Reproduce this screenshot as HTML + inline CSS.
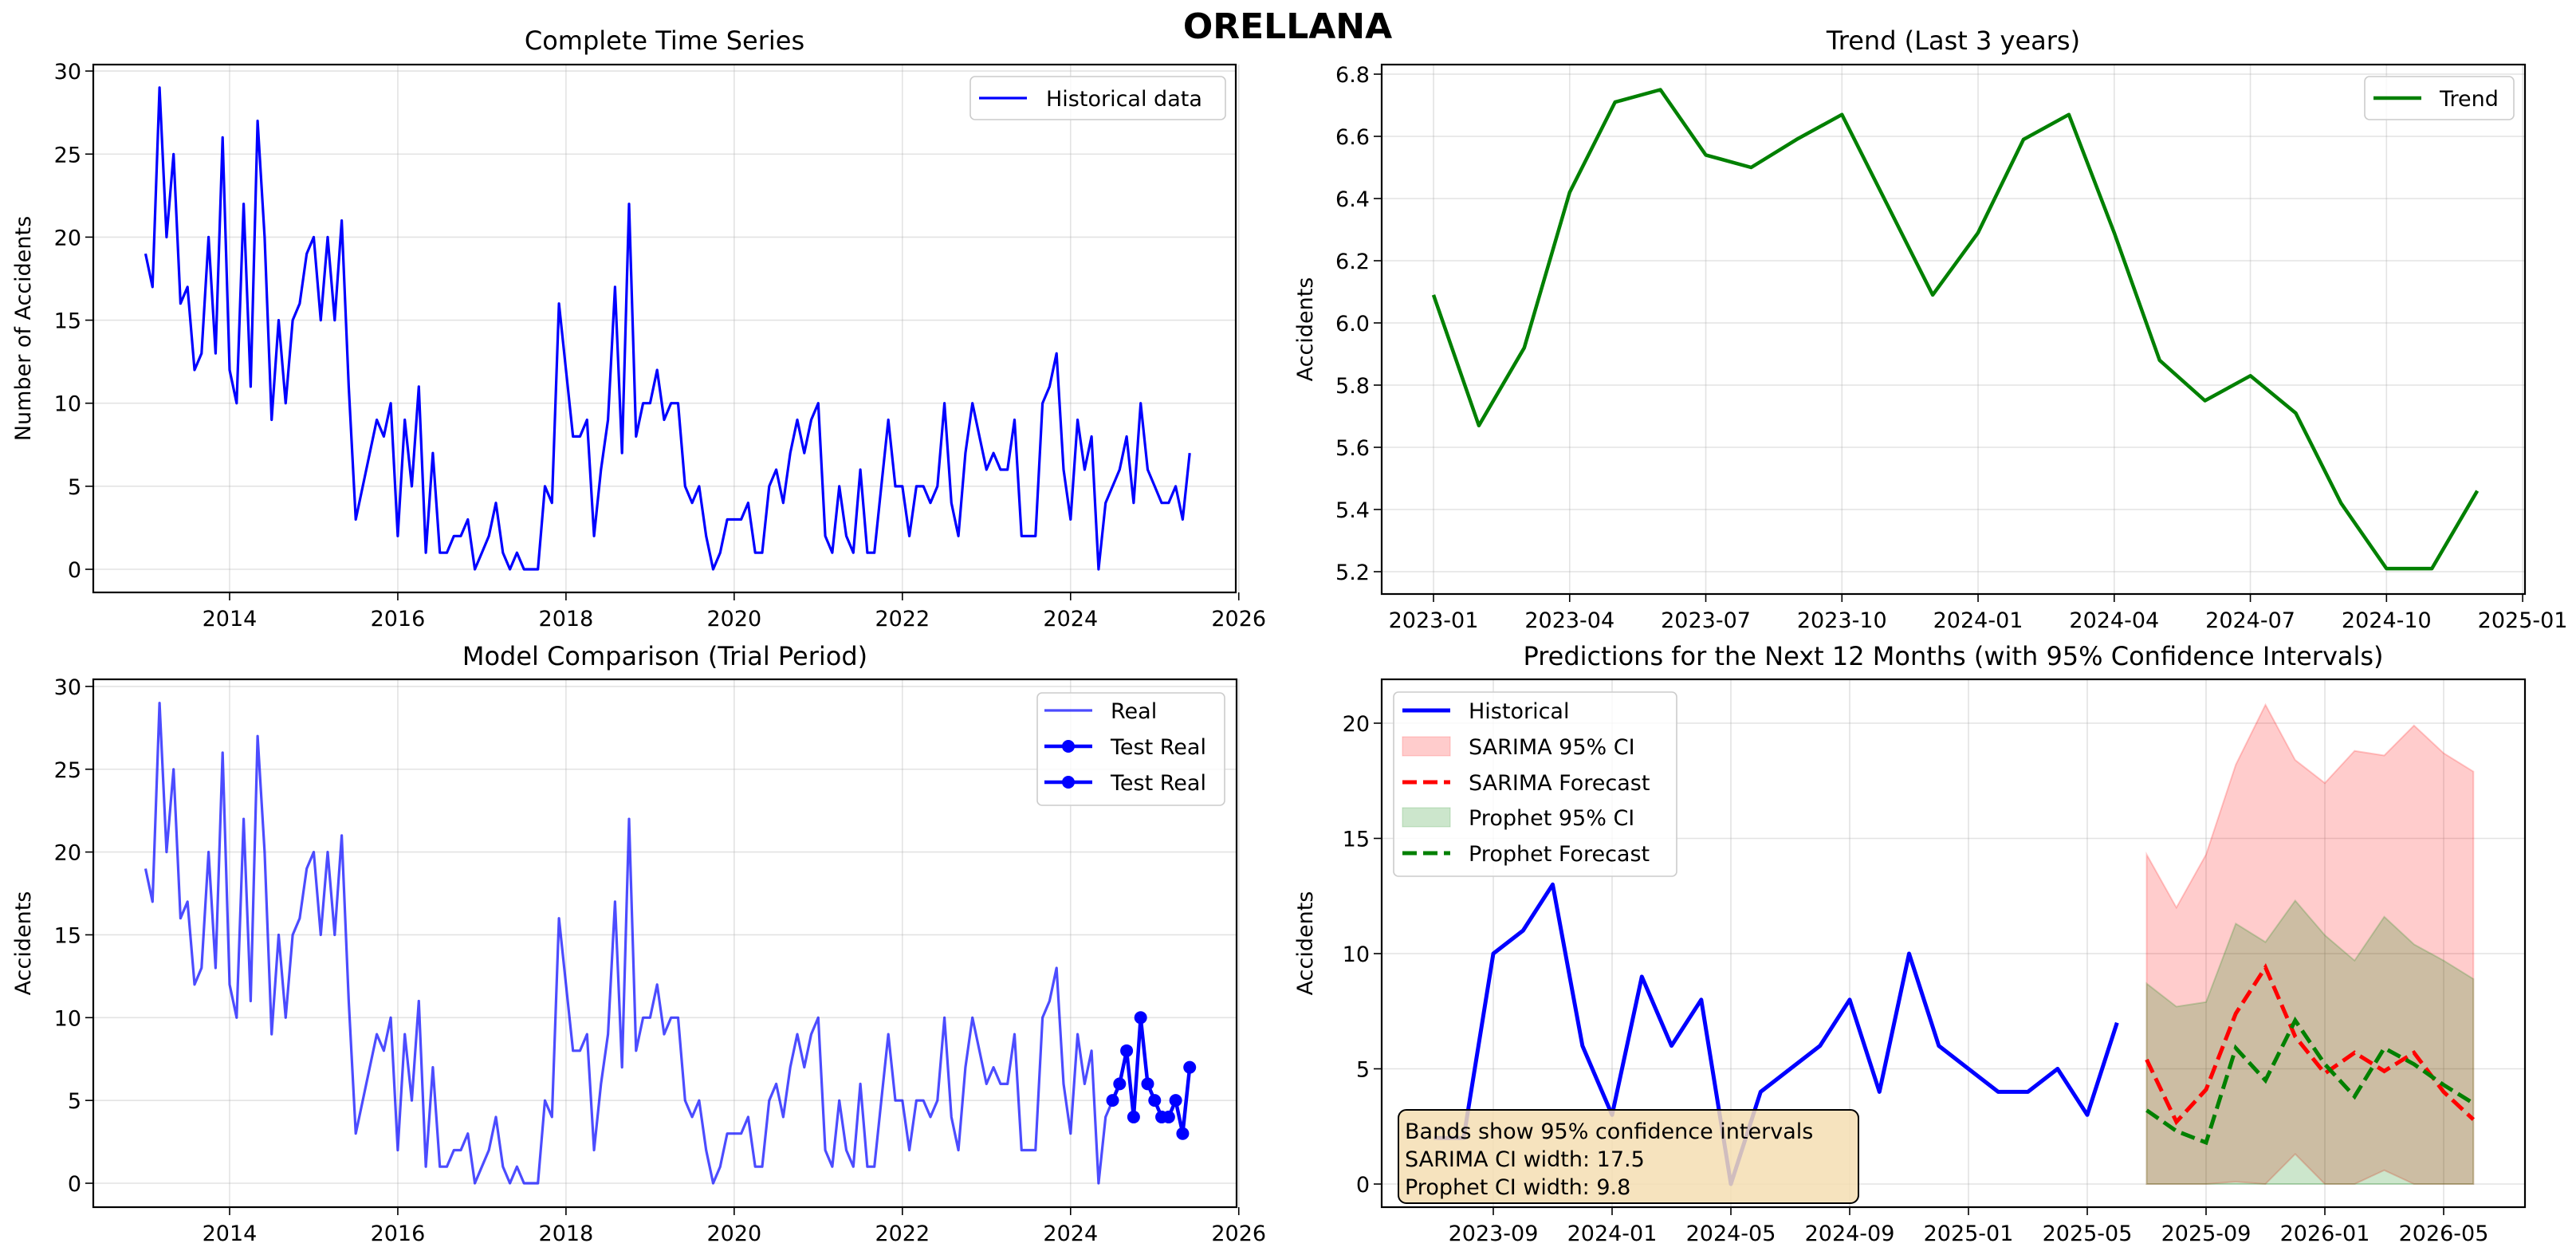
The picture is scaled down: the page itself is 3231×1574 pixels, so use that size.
<!DOCTYPE html>
<html><head><meta charset="utf-8"><style>
html,body{margin:0;padding:0;background:#fff;}
svg{display:block;font-family:"DejaVu Sans","Liberation Sans",sans-serif;}
</style></head><body>
<svg id="fig" width="3231" height="1574" viewBox="0 0 3231 1574" xmlns="http://www.w3.org/2000/svg">
<rect width="3231" height="1574" fill="#fff"/>
<text x="1615" y="48" text-anchor="middle" font-size="44" font-weight="bold">ORELLANA</text>
</svg>
<script>
// ---- data ----
const histValues = [19,17,29,20,25,16,17,12,13,20,13,26,
12,10,22,11,27,20,9,15,10,15,16,19,
20,15,20,15,21,11,3,5,7,9,8,10,
2,9,5,11,1,7,1,1,2,2,3,0,
1,2,4,1,0,1,0,0,0,5,4,16,
12,8,8,9,2,6,9,17,7,22,8,10,
10,12,9,10,10,5,4,5,2,0,1,3,
3,3,4,1,1,5,6,4,7,9,7,9,
10,2,1,5,2,1,6,1,1,5,9,5,
5,2,5,5,4,5,10,4,2,7,10,8,
6,7,6,6,9,2,2,2,10,11,13,6,
3,9,6,8,0,4,5,6,8,4,10,6,
5,4,4,5,3,7];
const trendValues = [6.09,5.67,5.92,6.42,6.71,6.75,6.54,6.50,6.59,6.67,6.38,6.09,6.29,6.59,6.67,6.29,5.88,5.75,5.83,5.71,5.42,5.21,5.21,5.46];
const sarimaForecast = [5.4,2.7,4.1,7.4,9.4,6.4,4.8,5.7,4.9,5.7,4.0,2.8];
const sarimaUpper = [14.3,12.0,14.3,18.2,20.8,18.4,17.4,18.8,18.6,19.9,18.7,17.9];
const sarimaLower = [0,0,0,0.1,0,1.3,0,0,0.6,0,0,0];
const prophetForecast = [3.2,2.3,1.8,5.9,4.5,7.1,5.2,3.8,5.9,5.2,4.3,3.5];
const prophetUpper = [8.7,7.7,7.9,11.3,10.5,12.3,10.8,9.7,11.6,10.4,9.7,8.9];
const prophetLower = [0,0,0,0,0,0,0,0,0,0,0,0];
const yearTicks = [2014,2016,2018,2020,2022,2024,2026];
const countTicks = [0,5,10,15,20,25,30];
const trendTicks = [5.2,5.4,5.6,5.8,6.0,6.2,6.4,6.6,6.8];
const trendDateLabels = ["2023-01","2023-04","2023-07","2023-10","2024-01","2024-04","2024-07","2024-10","2025-01"];
const forecastDateLabels = ["2023-09","2024-01","2024-05","2024-09","2025-01","2025-05","2025-09","2026-01","2026-05"];
const forecastYTicks = [0,5,10,15,20];
const testCount = 12;

const NS="http://www.w3.org/2000/svg";
const svg=document.getElementById('fig');
function mk(tag,attrs,parent){const e=document.createElementNS(NS,tag);for(const k in attrs)e.setAttribute(k,attrs[k]);(parent||svg).appendChild(e);return e;}
function txt(x,y,s,size,anchor,parent,extra){const e=mk('text',Object.assign({x:x,y:y,'font-size':size,'text-anchor':anchor||'middle'},extra||{}),parent);e.textContent=s;return e;}
function pts(xs,ys){return xs.map((x,i)=>x.toFixed(1)+','+ys[i].toFixed(1)).join(' ');}

function axesFrame(g,L,T,R,B){
  const r=mk('rect',{x:L,y:T,width:R-L,height:B-T,fill:'none',stroke:'#000','stroke-width':2.2},g);
  return r;
}
function gridX(g,x,T,B){mk('line',{x1:x,y1:T,x2:x,y2:B,stroke:'#b0b0b0','stroke-opacity':0.35,'stroke-width':1.6},g);}
function gridY(g,y,L,R){mk('line',{x1:L,y1:y,x2:R,y2:y,stroke:'#b0b0b0','stroke-opacity':0.35,'stroke-width':1.6},g);}
function tickX(g,x,B,label){mk('line',{x1:x,y1:B,x2:x,y2:B+10,stroke:'#000','stroke-width':1.6},g);const t=txt(x,B+42,label,27,'middle',g);}
function tickY(g,y,L,label){mk('line',{x1:L-10,y1:y,x2:L,y2:y,stroke:'#000','stroke-width':1.6},g);const t=txt(L-15,y+10,label,27,'end',g);}

// ===== Panel 1: Complete Time Series =====
(function(){
  const g=mk('g',{});
  
  
  const L=117,T=81,R=1550,B=743;
  const xm=t=>182.5+t*8.79, yv=v=>714-20.83*v;
  yearTicks.forEach(yr=>{gridX(g,xm((yr-2013)*12),T,B);});
  countTicks.forEach(v=>gridY(g,yv(v),L,R));
  const line=mk('polyline',{points:pts(histValues.map((v,i)=>xm(i)),histValues.map(yv)),fill:'none',stroke:'#0000ff','stroke-width':3.2,'stroke-linejoin':'round'},g);
  
  
  axesFrame(g,L,T,R,B);
  yearTicks.forEach(yr=>tickX(g,xm((yr-2013)*12),B,String(yr)));
  countTicks.forEach(v=>tickY(g,yv(v),L,String(v)));
  const tt=txt((L+R)/2,62,'Complete Time Series',32,'middle',g);
  
  
  const yl=txt(0,0,'Number of Accidents',27,'middle',g,{transform:'translate(38,'+((T+B)/2)+') rotate(-90)'});
  
  
  const lg=mk('g',{},g);
  
  
  mk('rect',{x:1217,y:96,width:320,height:54,rx:6,fill:'#fff','fill-opacity':0.8,stroke:'#ccc','stroke-width':1.6},lg);
  mk('line',{x1:1228,y1:123,x2:1288,y2:123,stroke:'#0000ff','stroke-width':3.2},lg);
  txt(1312,133,'Historical data',27,'start',lg);
})();

// ===== Panel 2: Trend =====
(function(){
  const g=mk('g',{});
  
  
  const L=1733,T=81,R=3167,B=745;
  const xm=t=>1798+t*56.92, yv=v=>717-(v-5.2)/1.6*624;
  trendDateLabels.forEach((s,i)=>gridX(g,xm(i*3),T,B));
  trendTicks.forEach(v=>gridY(g,yv(v),L,R));
  const line=mk('polyline',{points:pts(trendValues.map((v,i)=>xm(i)),trendValues.map(yv)),fill:'none',stroke:'#008000','stroke-width':4.5,'stroke-linejoin':'round'},g);
  
  
  axesFrame(g,L,T,R,B);
  trendDateLabels.forEach((s,i)=>tickX(g,xm(i*3),B,s));
  trendTicks.forEach(v=>tickY(g,yv(v),L,v.toFixed(1)));
  const tt=txt((L+R)/2,62,'Trend (Last 3 years)',32,'middle',g);
  
  
  const yl=txt(0,0,'Accidents',27,'middle',g,{transform:'translate(1646,'+((T+B)/2)+') rotate(-90)'});
  
  
  const lg=mk('g',{},g);
  
  
  mk('rect',{x:2966,y:96,width:187,height:54,rx:6,fill:'#fff','fill-opacity':0.8,stroke:'#ccc','stroke-width':1.6},lg);
  mk('line',{x1:2977,y1:123,x2:3037,y2:123,stroke:'#008000','stroke-width':4.5},lg);
  txt(3060,133,'Trend',27,'start',lg);
})();

// ===== Panel 3: Model comparison =====
(function(){
  const g=mk('g',{});
  
  
  const L=117,T=852,R=1551,B=1514;
  const xm=t=>182.5+t*8.79, yv=v=>1484-20.77*v;
  yearTicks.forEach(yr=>gridX(g,xm((yr-2013)*12),T,B));
  countTicks.forEach(v=>gridY(g,yv(v),L,R));
  const line=mk('polyline',{points:pts(histValues.map((v,i)=>xm(i)),histValues.map(yv)),fill:'none',stroke:'#0000ff','stroke-opacity':0.7,'stroke-width':3.2,'stroke-linejoin':'round'},g);
  
  
  const start=histValues.length-testCount;
  const tv=histValues.slice(start);
  const tl=mk('polyline',{points:pts(tv.map((v,i)=>xm(start+i)),tv.map(yv)),fill:'none',stroke:'#0000ff','stroke-width':4.5,'stroke-linejoin':'round'},g);
  
  
  tv.forEach((v,i)=>{
    const c=mk('circle',{cx:xm(start+i),cy:yv(v),r:8,fill:'#0000ff'},g);
    
    
  });
  axesFrame(g,L,T,R,B);
  yearTicks.forEach(yr=>tickX(g,xm((yr-2013)*12),B,String(yr)));
  countTicks.forEach(v=>tickY(g,yv(v),L,String(v)));
  const tt=txt((L+R)/2,834,'Model Comparison (Trial Period)',32,'middle',g);
  
  
  const yl=txt(0,0,'Accidents',27,'middle',g,{transform:'translate(38,'+((T+B)/2)+') rotate(-90)'});
  
  
  const lg=mk('g',{},g);
  
  
  mk('rect',{x:1301,y:869,width:235,height:141,rx:6,fill:'#fff','fill-opacity':0.8,stroke:'#ccc','stroke-width':1.6},lg);
  mk('line',{x1:1310,y1:891,x2:1370,y2:891,stroke:'#0000ff','stroke-opacity':0.7,'stroke-width':3.2},lg);
  txt(1393,901,'Real',27,'start',lg);
  [936,981].forEach(y=>{
    mk('line',{x1:1310,y1:y,x2:1370,y2:y,stroke:'#0000ff','stroke-width':4.5},lg);
    mk('circle',{cx:1340,cy:y,r:8,fill:'#0000ff'},lg);
    txt(1393,y+10,'Test Real',27,'start',lg);
  });
})();

// ===== Panel 4: Predictions =====
(function(){
  const g=mk('g',{});
  
  
  const L=1733,T=852,R=3167,B=1514;
  const xm=t=>1798.5+t*37.25, yv=v=>1485-28.9*v;
  forecastDateLabels.forEach((s,i)=>gridX(g,xm(2+i*4),T,B));
  forecastYTicks.forEach(v=>gridY(g,yv(v),L,R));
  const hv=histValues.slice(histValues.length-24);
  const f0=24;
  const fx=sarimaForecast.map((v,i)=>xm(f0+i));
  const band=(up,lo,col,name)=>{
    const p=up.map((v,i)=>fx[i].toFixed(1)+','+yv(v).toFixed(1)).concat(lo.map((v,i)=>fx[i].toFixed(1)+','+yv(v).toFixed(1)).reverse()).join(' ');
    const e=mk('polygon',{points:p,fill:col,'fill-opacity':0.2,stroke:col,'stroke-opacity':0.2,'stroke-width':2},g);
    return e;
  };
  const b1=band(sarimaUpper,sarimaLower,'#ff0000');
  
  
  const b2=band(prophetUpper,prophetLower,'#008000');
  
  
  const hl=mk('polyline',{points:pts(hv.map((v,i)=>xm(i)),hv.map(yv)),fill:'none',stroke:'#0000ff','stroke-width':5,'stroke-linejoin':'round'},g);
  
  
  const sl=mk('polyline',{points:pts(fx,sarimaForecast.map(yv)),fill:'none',stroke:'#ff0000','stroke-width':5,'stroke-dasharray':'18,8'},g);
  
  
  const pl=mk('polyline',{points:pts(fx,prophetForecast.map(yv)),fill:'none',stroke:'#008000','stroke-width':5,'stroke-dasharray':'18,8'},g);
  
  
  axesFrame(g,L,T,R,B);
  forecastDateLabels.forEach((s,i)=>tickX(g,xm(2+i*4),B,s));
  forecastYTicks.forEach(v=>tickY(g,yv(v),L,String(v)));
  const tt=txt((L+R)/2,834,'Predictions for the Next 12 Months (with 95% Confidence Intervals)',32,'middle',g);
  
  
  const yl=txt(0,0,'Accidents',27,'middle',g,{transform:'translate(1646,'+((T+B)/2)+') rotate(-90)'});
  
  
  const lg=mk('g',{},g);
  
  
  mk('rect',{x:1748,y:868,width:355,height:231,rx:6,fill:'#fff','fill-opacity':0.8,stroke:'#ccc','stroke-width':1.6},lg);
  const rows=[891,936,981,1025,1070];
  mk('line',{x1:1759,y1:rows[0],x2:1819,y2:rows[0],stroke:'#0000ff','stroke-width':5},lg);
  txt(1842,rows[0]+10,'Historical',27,'start',lg);
  mk('rect',{x:1759,y:rows[1]-12,width:60,height:24,fill:'#ff0000','fill-opacity':0.2,stroke:'#ff0000','stroke-opacity':0.2},lg);
  txt(1842,rows[1]+10,'SARIMA 95% CI',27,'start',lg);
  mk('line',{x1:1759,y1:rows[2],x2:1819,y2:rows[2],stroke:'#ff0000','stroke-width':5,'stroke-dasharray':'18,8'},lg);
  txt(1842,rows[2]+10,'SARIMA Forecast',27,'start',lg);
  mk('rect',{x:1759,y:rows[3]-12,width:60,height:24,fill:'#008000','fill-opacity':0.2,stroke:'#008000','stroke-opacity':0.2},lg);
  txt(1842,rows[3]+10,'Prophet 95% CI',27,'start',lg);
  mk('line',{x1:1759,y1:rows[4],x2:1819,y2:rows[4],stroke:'#008000','stroke-width':5,'stroke-dasharray':'18,8'},lg);
  txt(1842,rows[4]+10,'Prophet Forecast',27,'start',lg);
  const tb=mk('g',{},g);
  
  
  mk('rect',{x:1754,y:1392,width:577,height:117,rx:10,fill:'#f5deb3','fill-opacity':0.85,stroke:'#000','stroke-width':2},tb);
  txt(1762,1428,'Bands show 95% confidence intervals',27,'start',tb);
  txt(1762,1463,'SARIMA CI width: 17.5',27,'start',tb);
  txt(1762,1498,'Prophet CI width: 9.8',27,'start',tb);
})();
</script>
</body></html>
